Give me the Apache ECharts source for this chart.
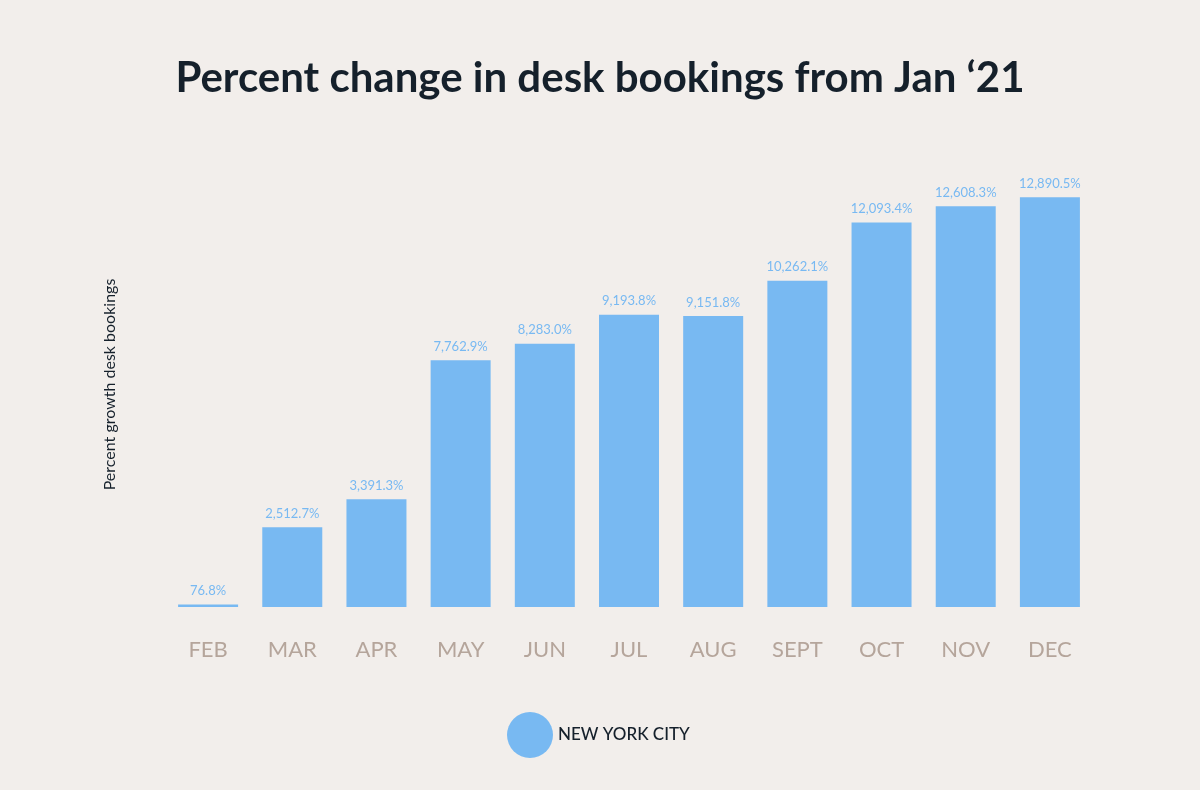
<!DOCTYPE html>
<html>
<head>
<meta charset="utf-8">
<script src="https://cdn.jsdelivr.net/npm/echarts@6/dist/echarts.min.js"></script>
<style>
  html, body { margin: 0; padding: 0; background: #f2eeeb; }
  #chart { width: 1200px; height: 790px; }
</style>
</head>
<body>
<div id="chart"></div>
<script>
const months = ['FEB', 'MAR', 'APR', 'MAY', 'JUN', 'JUL', 'AUG', 'SEPT', 'OCT', 'NOV', 'DEC'];
const nycGrowth = [76.8, 2512.7, 3391.3, 7762.9, 8283.0, 9193.8, 9151.8, 10262.1, 12093.4, 12608.3, 12890.5];

const chart = echarts.init(document.getElementById('chart'));

// one decimal, thousands separators
function fmtPct(v) {
  return v.toLocaleString('en-US', { minimumFractionDigits: 1, maximumFractionDigits: 1 }) + '%';
}

chart.setOption({
  backgroundColor: '#f2eeeb',
  textStyle: { fontFamily: 'Lato, "Noto Sans", sans-serif' },
  title: {
    text: 'Percent change in desk bookings from Jan \u201821',
    left: 'center',
    top: 52,
    textStyle: { fontSize: 42, fontWeight: 'bold', color: '#15202b', fontFamily: 'Lato, "Noto Sans", sans-serif' }
  },
  legend: {
    data: ['NEW YORK CITY'],
    left: 502,
    top: 707,
    icon: 'circle',
    itemWidth: 46,
    itemHeight: 46,
    itemGap: 10,
    textStyle: { fontSize: 17, color: '#15202b', fontWeight: 500 }
  },
  grid: { left: 166, right: 108, top: 162, bottom: 183 },
  xAxis: {
    type: 'category',
    data: months,
    axisLine: { show: false },
    axisTick: { show: false },
    axisLabel: { color: '#b5a59b', fontSize: 22, margin: 32 }
  },
  yAxis: {
    type: 'value',
    min: 0,
    max: 14000,
    name: 'Percent growth desk bookings',
    nameLocation: 'middle',
    nameGap: 48,
    nameTextStyle: { color: '#15202b', fontSize: 16 },
    axisLine: { show: false },
    axisTick: { show: false },
    axisLabel: { show: false },
    splitLine: { show: false }
  },
  series: [{
    name: 'NEW YORK CITY',
    type: 'bar',
    data: nycGrowth,
    barWidth: 60,
    itemStyle: { color: '#78b9f2' },
    label: {
      show: true,
      position: 'top',
      distance: 7,
      color: '#78b9f2',
      fontSize: 13,
      formatter: p => fmtPct(p.value)
    }
  }]
});
</script>
</body>
</html>
